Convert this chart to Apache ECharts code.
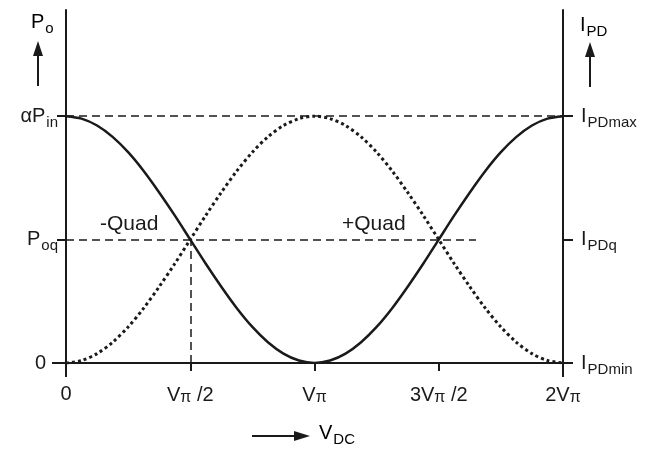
<!DOCTYPE html>
<html>
<head>
<meta charset="utf-8">
<style>
  html, body { margin: 0; padding: 0; background: #fff; }
  #chart { width: 649px; height: 450px; }
</style>
<script src="https://cdn.jsdelivr.net/npm/echarts@6/dist/echarts.min.js"></script>
</head>
<body>
<div id="chart"></div>
<script>
// Bias voltage in units of V_pi
const vdc = [0, 0.0625, 0.125, 0.1875, 0.25, 0.3125, 0.375, 0.4375, 0.5, 0.5625, 0.625, 0.6875, 0.75, 0.8125, 0.875, 0.9375,
             1, 1.0625, 1.125, 1.1875, 1.25, 1.3125, 1.375, 1.4375, 1.5, 1.5625, 1.625, 1.6875, 1.75, 1.8125, 1.875, 1.9375, 2];
// Normalised optical output power P_o / (alpha P_in)
const powerOut = [1, 0.990, 0.962, 0.916, 0.854, 0.778, 0.691, 0.598, 0.500, 0.402, 0.309, 0.222, 0.146, 0.084, 0.038, 0.010,
                  0, 0.010, 0.038, 0.084, 0.146, 0.222, 0.309, 0.402, 0.500, 0.598, 0.691, 0.778, 0.854, 0.916, 0.962, 0.990, 1];
// Normalised photodiode current I_PD
const photoCurrent = [0, 0.010, 0.038, 0.084, 0.146, 0.222, 0.309, 0.402, 0.500, 0.598, 0.691, 0.778, 0.854, 0.916, 0.962, 0.990,
                      1, 0.990, 0.962, 0.916, 0.854, 0.778, 0.691, 0.598, 0.500, 0.402, 0.309, 0.222, 0.146, 0.084, 0.038, 0.010, 0];

const xTickValues = [0, 0.5, 1, 1.5, 2];
const xTickLabels = ['{m|0}', '{m|V}{p|π}{m| /2}', '{m|V}{p|π}', '{m|3V}{p|π}{m| /2}', '{m|2V}{p|π}'];
const yTickValues = [0, 0.5, 1];
const leftTickLabels = ['{z|0}', '{m|P}{s|oq}', '{m|αP}{s|in}'];
const rightTickLabels = ['{m|I}{s|PDmin}', '{m|I}{s|PDq}', '{m|I}{s|PDmax}'];

// Reference levels (dashed)
const maxLevel = 1;          // alpha*P_in
const quadLevel = 0.5;       // P_oq
const quadLineEnd = 1.65;    // end of the quadrature guide line
const negQuadBias = 0.5;     // V_pi / 2

const INK = '#1a1a1a';
const FONT = '"Liberation Sans", Arial, sans-serif';
const Y_MAX = 1.43;

function pick(values, labels, v) {
  for (let i = 0; i < values.length; i++) {
    if (Math.abs(values[i] - v) < 1e-6) return labels[i];
  }
  return '';
}

const richTick = {
  m: { fontSize: 20, fontFamily: FONT, color: INK },
  z: { fontSize: 20, fontFamily: FONT, color: INK, padding: [0, 12, 0, 0] },
  s: { fontSize: 15, fontFamily: FONT, color: INK, padding: [13, 0, 0, 1] },
  p: { fontSize: 16, fontFamily: FONT, color: INK, padding: [6, 0, 0, 0] }
};

const chart = echarts.init(document.getElementById('chart'));

chart.setOption({
  backgroundColor: '#fff',
  animation: false,
  grid: { left: 66, right: 86, top: 10, bottom: 87 },
  xAxis: [
    {
      type: 'value', min: 0, max: 2, position: 'bottom',
      axisLine: { show: true, lineStyle: { color: INK, width: 2 } },
      axisTick: { show: true, customValues: [0.5, 1, 1.5], length: 8, lineStyle: { color: INK, width: 2 } },
      axisLabel: {
        show: true, customValues: xTickValues, margin: 21,
        formatter: v => pick(xTickValues, xTickLabels, v), rich: richTick
      },
      splitLine: { show: false }
    },
    {
      type: 'value', min: 0, max: 2, position: 'bottom',
      axisLine: { show: false },
      axisTick: { show: true, customValues: [0, 2], length: 14, lineStyle: { color: INK, width: 2 } },
      axisLabel: { show: false },
      splitLine: { show: false }
    }
  ],
  yAxis: [
    {
      type: 'value', min: 0, max: Y_MAX, position: 'left',
      axisLine: { show: true, lineStyle: { color: INK, width: 2 } },
      axisTick: { show: true, customValues: [0.5, 1], length: 9, lineStyle: { color: INK, width: 2 } },
      axisLabel: {
        show: true, customValues: yTickValues, margin: 8,
        formatter: v => pick(yTickValues, leftTickLabels, v), rich: richTick
      },
      splitLine: { show: false }
    },
    {
      type: 'value', min: 0, max: Y_MAX, position: 'left',
      axisLine: { show: false },
      axisTick: { show: true, customValues: [0], length: 14, lineStyle: { color: INK, width: 2 } },
      axisLabel: { show: false },
      splitLine: { show: false }
    },
    {
      type: 'value', min: 0, max: Y_MAX, position: 'right',
      axisLine: { show: true, lineStyle: { color: INK, width: 2 } },
      axisTick: { show: true, customValues: [0, 0.5, 1], length: 10, lineStyle: { color: INK, width: 2 } },
      axisLabel: {
        show: true, customValues: yTickValues, margin: 18, align: 'left',
        formatter: v => pick(yTickValues, rightTickLabels, v), rich: richTick
      },
      splitLine: { show: false }
    }
  ],
  series: [
    {
      name: 'Po', type: 'line', xAxisIndex: 0, yAxisIndex: 0,
      data: vdc.map((x, i) => [x, powerOut[i]]),
      smooth: 0.3, showSymbol: false, z: 3,
      lineStyle: { color: INK, width: 2.5 },
      markLine: {
        silent: true, symbol: 'none', label: { show: false },
        lineStyle: { color: INK, width: 1.5, type: [8, 5] },
        data: [
          [{ coord: [0, maxLevel] }, { coord: [2, maxLevel] }],
          [{ coord: [0, quadLevel] }, { coord: [quadLineEnd, quadLevel] }],
          [{ coord: [negQuadBias, 0] }, { coord: [negQuadBias, quadLevel] }]
        ]
      }
    },
    {
      name: 'IPD', type: 'line', xAxisIndex: 0, yAxisIndex: 2,
      data: vdc.map((x, i) => [x, photoCurrent[i]]),
      smooth: 0.3, showSymbol: false, z: 2,
      lineStyle: { color: INK, width: 3, type: [3, 3] }
    }
  ],
  graphic: [
    // P_o axis title and arrow
    { type: 'text', left: 31, top: 12, style: { text: '{m|P}{s|o}', rich: richTick } },
    { type: 'line', shape: { x1: 38, y1: 86, x2: 38, y2: 54 }, style: { stroke: INK, lineWidth: 2 } },
    { type: 'polygon', shape: { points: [[38, 41], [33, 56], [43, 56]] }, style: { fill: INK } },
    // I_PD axis title and arrow
    { type: 'text', left: 580, top: 15, style: { text: '{m|I}{s|PD}', rich: richTick } },
    { type: 'line', shape: { x1: 590, y1: 87, x2: 590, y2: 55 }, style: { stroke: INK, lineWidth: 2 } },
    { type: 'polygon', shape: { points: [[590, 42], [585, 57], [595, 57]] }, style: { fill: INK } },
    // V_DC axis title and arrow
    { type: 'line', shape: { x1: 252, y1: 436, x2: 296, y2: 436 }, style: { stroke: INK, lineWidth: 2 } },
    { type: 'polygon', shape: { points: [[310, 436], [294, 431], [294, 441]] }, style: { fill: INK } },
    { type: 'text', left: 319, top: 423, style: { text: '{m|V}{s|DC}', rich: richTick } },
    // Quadrature point annotations
    { type: 'text', left: 100, top: 214, style: { text: '-Quad', fontSize: 21, fontFamily: FONT, fill: INK } },
    { type: 'text', left: 342, top: 214, style: { text: '+Quad', fontSize: 21, fontFamily: FONT, fill: INK } }
  ]
});
</script>
</body>
</html>
